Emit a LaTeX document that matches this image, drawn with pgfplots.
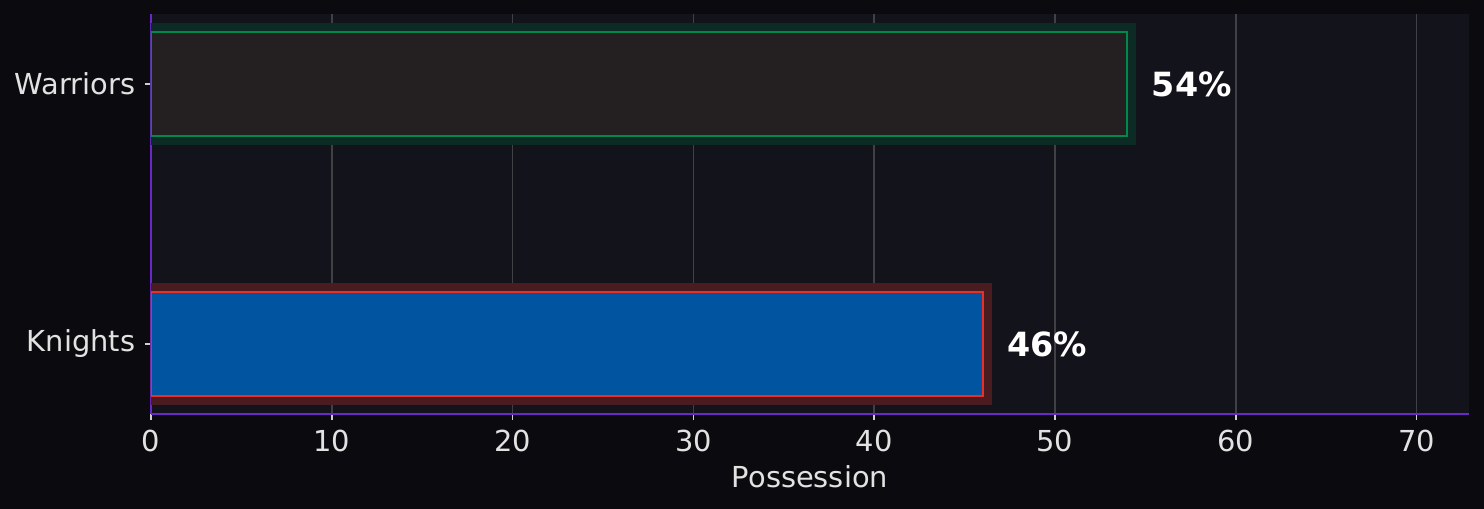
\documentclass[border=0pt]{standalone}
\usepackage{fontspec}
\setmainfont{DejaVu Sans}
\usepackage{pgfplots}
\pgfplotsset{compat=1.18}

\definecolor{figbg}{HTML}{0B0B0F}
\definecolor{axbg}{HTML}{12131B}
\definecolor{spine}{HTML}{6A28C8}
\definecolor{gridc}{HTML}{404045}
\definecolor{tickc}{HTML}{CFCFCF}
\definecolor{labc}{HTML}{E2E2E2}
\definecolor{wfill}{HTML}{242022}
\definecolor{wedge}{HTML}{00894B}
\definecolor{wglow}{HTML}{0B2B24}
\definecolor{kfill}{HTML}{0054A0}
\definecolor{kedge}{HTML}{E8302A}
\definecolor{kglow}{HTML}{4A1C20}

\begin{document}
\begin{tikzpicture}
% whole figure, 1484x509 px at 200 dpi
\path[use as bounding box, fill=figbg] (-54.36bp,-34.2bp) rectangle (479.88bp,149.04bp);
\begin{axis}[
    at={(0,0)}, anchor=south west,
    scale only axis,
    width=474.48bp, height=144bp,
    xmin=0, xmax=72.9,
    ymin=-0.27, ymax=1.27,
    axis background/.style={fill=axbg},
    axis x line=bottom, axis y line=left,
    axis line style={-, draw=spine, line width=0.85bp},
    xtick={0,10,...,70},
    ytick={0,1}, yticklabels={Knights,Warriors},
    xmajorgrids,
    grid style={gridc, line width=0.6bp},
    tick style={tickc, line width=0.55bp},
    major tick length=2.2bp, tick align=outside,
    tick label style={font=\fontsize{10.4bp}{12bp}\selectfont, text=labc},
    /pgf/number format/assume math mode=true,
    xlabel={Possession},
    xlabel style={font=\fontsize{10.4bp}{12bp}\selectfont, text=labc,
        at={(axis description cs:0.5,0)}, anchor=base, yshift=-26.4bp},
    xbar, bar width=0.4, bar shift=0pt,
    point meta=x,
    every node near coord/.style={anchor=west, xshift=8.5bp, inner sep=0pt,
        font=\bfseries\fontsize{12bp}{14bp}\selectfont, text=white},
    ]
% glow behind the bars
\addplot[fill=wglow, draw=wglow, line width=6.48bp] coordinates {(54,1)};
\addplot[fill=kglow, draw=kglow, line width=6.48bp] coordinates {(46,0)};
% bars
\addplot[fill=wfill, draw=wedge, line width=0.75bp,
    nodes near coords={\pgfmathprintnumber{\pgfplotspointmeta}\%}]
    coordinates {(54,1)};
\addplot[fill=kfill, draw=kedge, line width=0.75bp,
    nodes near coords={\pgfmathprintnumber{\pgfplotspointmeta}\%}]
    coordinates {(46,0)};
\end{axis}
\end{tikzpicture}
\end{document}
